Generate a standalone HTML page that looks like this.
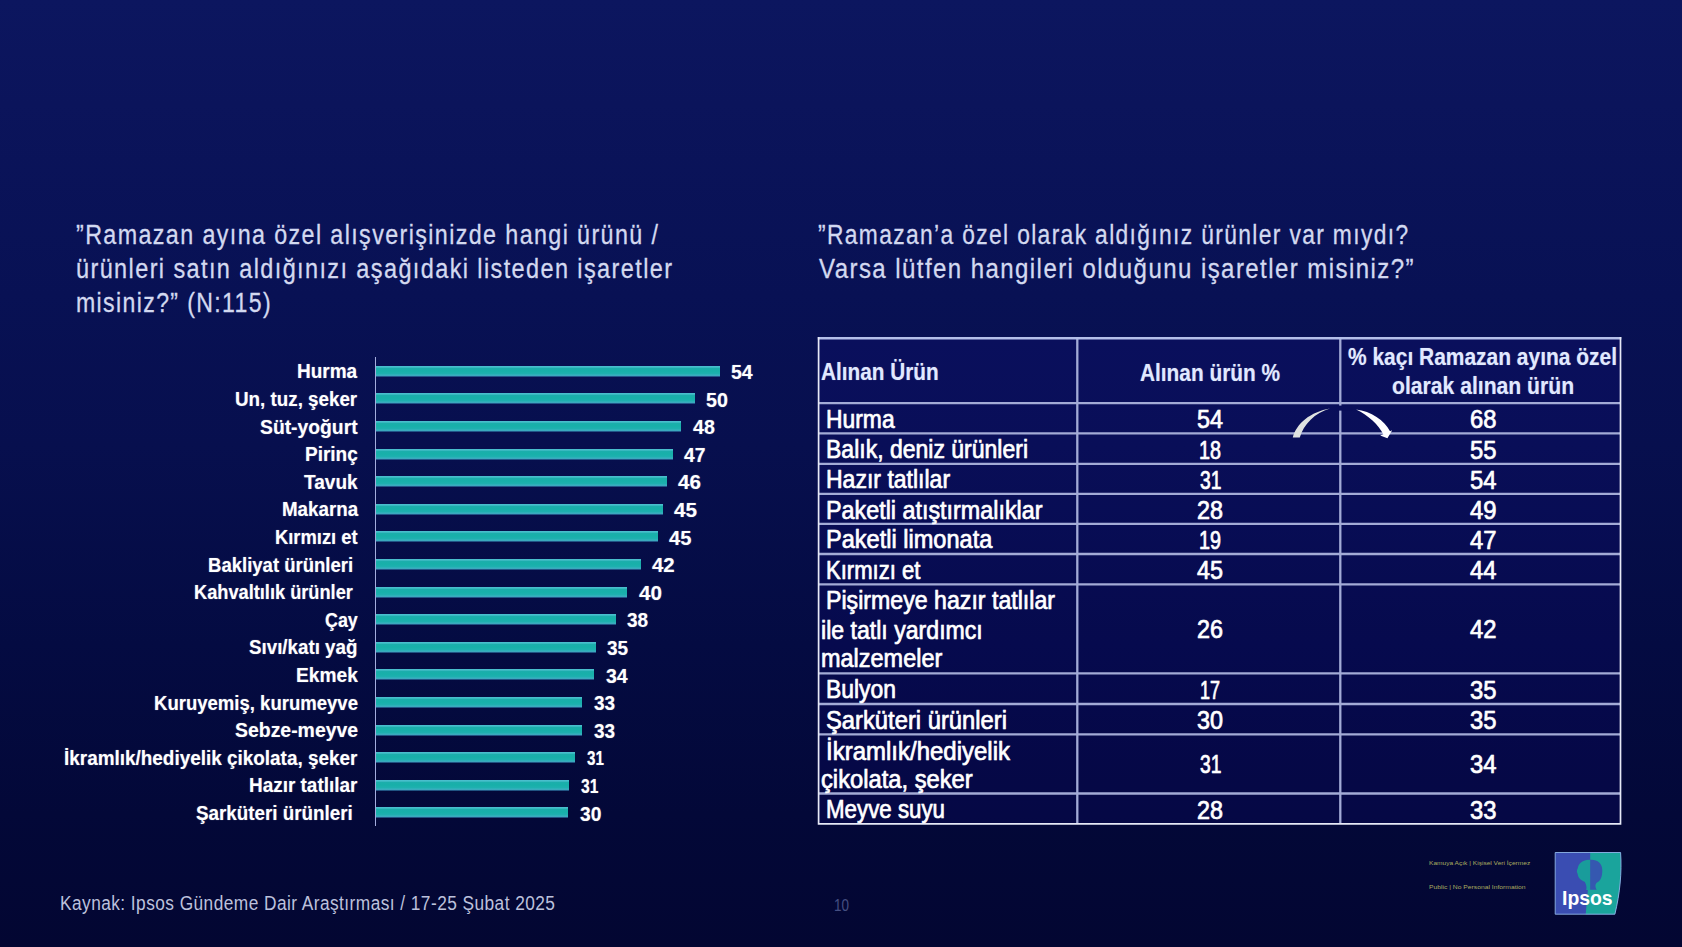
<!DOCTYPE html>
<html lang="tr"><head><meta charset="utf-8"><title>Ipsos - Ramazan alışverişi</title>
<style>
html,body{margin:0;padding:0}
body{width:1682px;height:947px;overflow:hidden;position:relative;font-family:"Liberation Sans", sans-serif;
background:linear-gradient(180deg,rgb(12,22,95) 0%,rgb(11,20,91) 11%,rgb(8,17,84) 31%,rgb(7,15,78) 47%,rgb(4,11,66) 68%,rgb(3,8,56) 86%,rgb(3,6,50) 100%);}
.t{position:absolute;white-space:pre;transform-origin:0 0;font-family:"Liberation Sans", sans-serif;}
.bar{position:absolute;left:376.3px;height:11.4px;background:linear-gradient(180deg,#45bccb 0,#4cc0ce 1px,#1caeac 2.2px,#17b0a9 5px,#1fb0b0 7.8px,#3db2c3 9.4px,rgba(46,120,165,.75) 10.4px,rgba(30,70,130,0) 11.4px);}
.axis{position:absolute;left:374.6px;top:356.5px;width:1.9px;height:469px;background:#a3addd;}
svg{position:absolute;left:0;top:0}
</style></head><body>
<div class="bar" style="top:365.8px;width:343.5px"></div>
<div class="bar" style="top:393.4px;width:318.4px"></div>
<div class="bar" style="top:421.0px;width:304.7px"></div>
<div class="bar" style="top:448.6px;width:296.3px"></div>
<div class="bar" style="top:476.2px;width:290.7px"></div>
<div class="bar" style="top:503.8px;width:286.5px"></div>
<div class="bar" style="top:531.4px;width:281.5px"></div>
<div class="bar" style="top:559.0px;width:264.6px"></div>
<div class="bar" style="top:586.6px;width:250.9px"></div>
<div class="bar" style="top:614.2px;width:239.5px"></div>
<div class="bar" style="top:641.8px;width:219.4px"></div>
<div class="bar" style="top:669.4px;width:217.9px"></div>
<div class="bar" style="top:697.0px;width:206.2px"></div>
<div class="bar" style="top:724.6px;width:206.2px"></div>
<div class="bar" style="top:752.2px;width:198.3px"></div>
<div class="bar" style="top:779.8px;width:193.0px"></div>
<div class="bar" style="top:807.4px;width:192.2px"></div>
<div class="axis"></div>
<svg width="1682" height="947" viewBox="0 0 1682 947">
<rect x="818.6" y="338" width="801.9" height="485.79999999999995" fill="rgba(22,10,165,0.12)"/>
<g stroke="#a3abd6" stroke-width="2.3" fill="none"><line x1="818.6" y1="403.2" x2="1620.5" y2="403.2"/><line x1="818.6" y1="433.4" x2="1620.5" y2="433.4"/><line x1="818.6" y1="463.8" x2="1620.5" y2="463.8"/><line x1="818.6" y1="493.8" x2="1620.5" y2="493.8"/><line x1="818.6" y1="523.9" x2="1620.5" y2="523.9"/><line x1="818.6" y1="554" x2="1620.5" y2="554"/><line x1="818.6" y1="584.3" x2="1620.5" y2="584.3"/><line x1="818.6" y1="673.3" x2="1620.5" y2="673.3"/><line x1="818.6" y1="704" x2="1620.5" y2="704"/><line x1="818.6" y1="734.3" x2="1620.5" y2="734.3"/><line x1="818.6" y1="793.5" x2="1620.5" y2="793.5"/><line x1="1077.3" y1="338" x2="1077.3" y2="823.8"/><line x1="1340.3" y1="338" x2="1340.3" y2="823.8"/></g>
<line x1="817.8000000000001" y1="338.2" x2="1621.3" y2="338.2" stroke="#b4bfe9" stroke-width="2.4"/><path d="M818.6,337 L818.6,823.8 L1620.5,823.8 L1620.5,337" stroke="#e6e9f6" stroke-width="1.7" fill="none"/>
<rect x="1336" y="405.6" width="17" height="5" fill="rgb(9,14,89)"/>
<path d="M1292.8,437.6 C1296,423.5 1311,411.5 1330,408.4 C1315,412.8 1303.5,424 1299.8,437.6 Z" fill="#dfe2e0"/>
<path d="M1356,409.6 C1371,411.3 1384.5,420.5 1390,431.3 L1392.2,430.2 L1387.4,438.2 L1380.2,435.4 L1383.3,434.2 C1378.5,425 1368.5,415.5 1356,409.6 Z" fill="#ffffff"/>
<g transform="translate(0.4,0.4)">
<path d="M1554.8,852.1 L1620.2,852.1 C1621.6,872 1619.5,893 1614.5,913.8 L1554.8,913.8 Z" fill="#3a4db2"/>
<path d="M1589.8,852.1 L1620.2,852.1 C1621.6,872 1619.5,893 1614.5,913.8 L1585.3,913.8 L1587.5,889 L1589.8,888.5 Z" fill="#1aa49c"/>
<path d="M1589.8,859.3 C1583,858.8 1578,862.5 1577.3,868 C1576.2,869.8 1576.2,871.5 1577.3,873.5 C1577.5,877 1580.5,880 1584.5,881.5 C1586,884.5 1586.5,887 1585.8,889.5 L1589.8,889.5 Z" fill="#199c9b"/>
<path d="M1589.8,859.3 C1597,858.8 1601.8,863 1601.9,869.5 C1602,876 1600.2,880.8 1596.2,882.3 C1594.6,884 1594.6,886.5 1596.2,889.3 L1589.8,889.3 Z" fill="#3558b0"/>
<path d="M1554.8,852.1 L1620.2,852.1 C1621.6,872 1619.5,893 1614.5,913.8 L1554.8,913.8 Z" fill="none" stroke="#8fb6e8" stroke-width="0.9"/>
</g>
</svg>
<span class="t" style="left:75.5px;top:221.5px;font-size:26.8px;line-height:26.8px;font-weight:400;color:#d3d9f0;transform:scaleX(0.8691);letter-spacing:1.6px;-webkit-text-stroke:0.3px #d3d9f0">”Ramazan ayına özel alışverişinizde hangi ürünü /</span>
<span class="t" style="left:76.0px;top:255.7px;font-size:26.8px;line-height:26.8px;font-weight:400;color:#d3d9f0;transform:scaleX(0.8757);letter-spacing:1.6px;-webkit-text-stroke:0.3px #d3d9f0">ürünleri satın aldığınızı aşağıdaki listeden işaretler</span>
<span class="t" style="left:76.0px;top:290.0px;font-size:26.8px;line-height:26.8px;font-weight:400;color:#d3d9f0;transform:scaleX(0.8611);letter-spacing:1.6px;-webkit-text-stroke:0.3px #d3d9f0">misiniz?” (N:115)</span>
<span class="t" style="left:818.4px;top:221.5px;font-size:26.8px;line-height:26.8px;font-weight:400;color:#d3d9f0;transform:scaleX(0.8507);letter-spacing:1.6px;-webkit-text-stroke:0.3px #d3d9f0">”Ramazan’a özel olarak aldığınız ürünler var mıydı?</span>
<span class="t" style="left:819.0px;top:255.7px;font-size:26.8px;line-height:26.8px;font-weight:400;color:#d3d9f0;transform:scaleX(0.8962);letter-spacing:1.6px;-webkit-text-stroke:0.3px #d3d9f0">Varsa lütfen hangileri olduğunu işaretler misiniz?”</span>
<span class="t" style="left:297.4px;top:362.4px;font-size:19.6px;line-height:19.6px;font-weight:700;color:#fff;transform:scaleX(0.9697);text-shadow:0 0 1.2px rgba(255,255,255,.45)">Hurma</span>
<span class="t" style="left:730.9px;top:362.0px;font-size:20px;line-height:20px;font-weight:700;color:#fff;transform:scaleX(0.9753);text-shadow:0 0 1.2px rgba(255,255,255,.45)">54</span>
<span class="t" style="left:235.4px;top:390.0px;font-size:19.6px;line-height:19.6px;font-weight:700;color:#fff;transform:scaleX(0.9591);text-shadow:0 0 1.2px rgba(255,255,255,.45)">Un, tuz, şeker</span>
<span class="t" style="left:705.8px;top:389.6px;font-size:20px;line-height:20px;font-weight:700;color:#fff;transform:scaleX(0.9843);text-shadow:0 0 1.2px rgba(255,255,255,.45)">50</span>
<span class="t" style="left:260.0px;top:417.6px;font-size:19.6px;line-height:19.6px;font-weight:700;color:#fff;transform:scaleX(0.9854);text-shadow:0 0 1.2px rgba(255,255,255,.45)">Süt-yoğurt</span>
<span class="t" style="left:693.2px;top:417.2px;font-size:20px;line-height:20px;font-weight:700;color:#fff;transform:scaleX(0.9798);text-shadow:0 0 1.2px rgba(255,255,255,.45)">48</span>
<span class="t" style="left:304.8px;top:445.2px;font-size:19.6px;line-height:19.6px;font-weight:700;color:#fff;transform:scaleX(0.9696);text-shadow:0 0 1.2px rgba(255,255,255,.45)">Pirinç</span>
<span class="t" style="left:683.9px;top:444.8px;font-size:20px;line-height:20px;font-weight:700;color:#fff;transform:scaleX(0.9618);text-shadow:0 0 1.2px rgba(255,255,255,.45)">47</span>
<span class="t" style="left:304.0px;top:472.8px;font-size:19.6px;line-height:19.6px;font-weight:700;color:#fff;transform:scaleX(0.9712);text-shadow:0 0 1.2px rgba(255,255,255,.45)">Tavuk</span>
<span class="t" style="left:678.1px;top:472.4px;font-size:20px;line-height:20px;font-weight:700;color:#fff;transform:scaleX(1.0292);text-shadow:0 0 1.2px rgba(255,255,255,.45)">46</span>
<span class="t" style="left:281.5px;top:500.4px;font-size:19.6px;line-height:19.6px;font-weight:700;color:#fff;transform:scaleX(0.9570);text-shadow:0 0 1.2px rgba(255,255,255,.45)">Makarna</span>
<span class="t" style="left:674.1px;top:500.0px;font-size:20px;line-height:20px;font-weight:700;color:#fff;transform:scaleX(1.0337);text-shadow:0 0 1.2px rgba(255,255,255,.45)">45</span>
<span class="t" style="left:275.0px;top:528.0px;font-size:19.6px;line-height:19.6px;font-weight:700;color:#fff;transform:scaleX(0.9365);text-shadow:0 0 1.2px rgba(255,255,255,.45)">Kırmızı et</span>
<span class="t" style="left:669.4px;top:527.6px;font-size:20px;line-height:20px;font-weight:700;color:#fff;transform:scaleX(1.0067);text-shadow:0 0 1.2px rgba(255,255,255,.45)">45</span>
<span class="t" style="left:207.6px;top:555.6px;font-size:19.6px;line-height:19.6px;font-weight:700;color:#fff;transform:scaleX(0.9456);text-shadow:0 0 1.2px rgba(255,255,255,.45)">Bakliyat ürünleri</span>
<span class="t" style="left:652.0px;top:555.2px;font-size:20px;line-height:20px;font-weight:700;color:#fff;transform:scaleX(1.0202);text-shadow:0 0 1.2px rgba(255,255,255,.45)">42</span>
<span class="t" style="left:193.9px;top:583.2px;font-size:19.6px;line-height:19.6px;font-weight:700;color:#fff;transform:scaleX(0.9295);text-shadow:0 0 1.2px rgba(255,255,255,.45)">Kahvaltılık ürünler</span>
<span class="t" style="left:639.3px;top:582.8px;font-size:20px;line-height:20px;font-weight:700;color:#fff;transform:scaleX(1.0337);text-shadow:0 0 1.2px rgba(255,255,255,.45)">40</span>
<span class="t" style="left:324.8px;top:610.8px;font-size:19.6px;line-height:19.6px;font-weight:700;color:#fff;transform:scaleX(0.9123);text-shadow:0 0 1.2px rgba(255,255,255,.45)">Çay</span>
<span class="t" style="left:626.6px;top:610.4px;font-size:20px;line-height:20px;font-weight:700;color:#fff;transform:scaleX(0.9483);text-shadow:0 0 1.2px rgba(255,255,255,.45)">38</span>
<span class="t" style="left:249.2px;top:638.4px;font-size:19.6px;line-height:19.6px;font-weight:700;color:#fff;transform:scaleX(0.9569);text-shadow:0 0 1.2px rgba(255,255,255,.45)">Sıvı/katı yağ</span>
<span class="t" style="left:607.4px;top:638.0px;font-size:20px;line-height:20px;font-weight:700;color:#fff;transform:scaleX(0.9483);text-shadow:0 0 1.2px rgba(255,255,255,.45)">35</span>
<span class="t" style="left:295.8px;top:666.0px;font-size:19.6px;line-height:19.6px;font-weight:700;color:#fff;transform:scaleX(0.9780);text-shadow:0 0 1.2px rgba(255,255,255,.45)">Ekmek</span>
<span class="t" style="left:605.5px;top:665.6px;font-size:20px;line-height:20px;font-weight:700;color:#fff;transform:scaleX(0.9753);text-shadow:0 0 1.2px rgba(255,255,255,.45)">34</span>
<span class="t" style="left:153.6px;top:693.6px;font-size:19.6px;line-height:19.6px;font-weight:700;color:#fff;transform:scaleX(0.9460);text-shadow:0 0 1.2px rgba(255,255,255,.45)">Kuruyemiş, kurumeyve</span>
<span class="t" style="left:594.2px;top:693.2px;font-size:20px;line-height:20px;font-weight:700;color:#fff;transform:scaleX(0.9483);text-shadow:0 0 1.2px rgba(255,255,255,.45)">33</span>
<span class="t" style="left:234.5px;top:721.2px;font-size:19.6px;line-height:19.6px;font-weight:700;color:#fff;transform:scaleX(0.9914);text-shadow:0 0 1.2px rgba(255,255,255,.45)">Sebze-meyve</span>
<span class="t" style="left:594.2px;top:720.8px;font-size:20px;line-height:20px;font-weight:700;color:#fff;transform:scaleX(0.9483);text-shadow:0 0 1.2px rgba(255,255,255,.45)">33</span>
<span class="t" style="left:64.2px;top:748.8px;font-size:19.6px;line-height:19.6px;font-weight:700;color:#fff;transform:scaleX(0.9655);text-shadow:0 0 1.2px rgba(255,255,255,.45)">İkramlık/hediyelik çikolata, şeker</span>
<span class="t" style="left:586.5px;top:748.4px;font-size:20px;line-height:20px;font-weight:700;color:#fff;transform:scaleX(0.7596);text-shadow:0 0 1.2px rgba(255,255,255,.45)">31</span>
<span class="t" style="left:249.2px;top:776.4px;font-size:19.6px;line-height:19.6px;font-weight:700;color:#fff;transform:scaleX(0.9664);text-shadow:0 0 1.2px rgba(255,255,255,.45)">Hazır tatlılar</span>
<span class="t" style="left:580.7px;top:776.0px;font-size:20px;line-height:20px;font-weight:700;color:#fff;transform:scaleX(0.7820);text-shadow:0 0 1.2px rgba(255,255,255,.45)">31</span>
<span class="t" style="left:195.5px;top:804.0px;font-size:19.6px;line-height:19.6px;font-weight:700;color:#fff;transform:scaleX(0.9599);text-shadow:0 0 1.2px rgba(255,255,255,.45)">Şarküteri ürünleri</span>
<span class="t" style="left:579.6px;top:803.6px;font-size:20px;line-height:20px;font-weight:700;color:#fff;transform:scaleX(0.9618);text-shadow:0 0 1.2px rgba(255,255,255,.45)">30</span>
<span class="t" style="left:820.6px;top:360.4px;font-size:24.2px;line-height:24.2px;font-weight:700;color:#e1e9ff;transform:scaleX(0.8580);text-shadow:0 0 1.2px rgba(225,233,255,.4)">Alınan Ürün</span>
<span class="t" style="left:1140.0px;top:361.1px;font-size:24.2px;line-height:24.2px;font-weight:700;color:#e1e9ff;transform:scaleX(0.8610);text-shadow:0 0 1.2px rgba(225,233,255,.4)">Alınan ürün %</span>
<span class="t" style="left:1348.0px;top:345.3px;font-size:24.2px;line-height:24.2px;font-weight:700;color:#e1e9ff;transform:scaleX(0.8662);text-shadow:0 0 1.2px rgba(225,233,255,.4)">% kaçı Ramazan ayına özel</span>
<span class="t" style="left:1391.7px;top:373.9px;font-size:24.2px;line-height:24.2px;font-weight:700;color:#e1e9ff;transform:scaleX(0.8740);text-shadow:0 0 1.2px rgba(225,233,255,.4)">olarak alınan ürün</span>
<span class="t" style="left:826.4px;top:405.7px;font-size:26px;line-height:26px;font-weight:400;color:#fff;transform:scaleX(0.8793);text-shadow:0 0 1.2px rgba(255,255,255,.4);-webkit-text-stroke:0.6px #fff">Hurma</span>
<span class="t" style="left:1197.2px;top:407.3px;font-size:25.2px;line-height:25.2px;font-weight:400;color:#fff;transform:scaleX(0.9275);text-shadow:0 0 1.2px rgba(255,255,255,.4);-webkit-text-stroke:0.6px #fff">54</span>
<span class="t" style="left:1469.5px;top:407.3px;font-size:25.2px;line-height:25.2px;font-weight:400;color:#fff;transform:scaleX(0.9454);text-shadow:0 0 1.2px rgba(255,255,255,.4);-webkit-text-stroke:0.6px #fff">68</span>
<span class="t" style="left:826.4px;top:436.0px;font-size:26px;line-height:26px;font-weight:400;color:#fff;transform:scaleX(0.8846);text-shadow:0 0 1.2px rgba(255,255,255,.4);-webkit-text-stroke:0.6px #fff">Balık, deniz ürünleri</span>
<span class="t" style="left:1199.2px;top:437.6px;font-size:25.2px;line-height:25.2px;font-weight:400;color:#fff;transform:scaleX(0.7848);text-shadow:0 0 1.2px rgba(255,255,255,.4);-webkit-text-stroke:0.6px #fff">18</span>
<span class="t" style="left:1469.5px;top:437.6px;font-size:25.2px;line-height:25.2px;font-weight:400;color:#fff;transform:scaleX(0.9454);text-shadow:0 0 1.2px rgba(255,255,255,.4);-webkit-text-stroke:0.6px #fff">55</span>
<span class="t" style="left:826.4px;top:466.2px;font-size:26px;line-height:26px;font-weight:400;color:#fff;transform:scaleX(0.8854);text-shadow:0 0 1.2px rgba(255,255,255,.4);-webkit-text-stroke:0.6px #fff">Hazır tatlılar</span>
<span class="t" style="left:1199.5px;top:467.8px;font-size:25.2px;line-height:25.2px;font-weight:400;color:#fff;transform:scaleX(0.7670);text-shadow:0 0 1.2px rgba(255,255,255,.4);-webkit-text-stroke:0.6px #fff">31</span>
<span class="t" style="left:1469.5px;top:467.8px;font-size:25.2px;line-height:25.2px;font-weight:400;color:#fff;transform:scaleX(0.9454);text-shadow:0 0 1.2px rgba(255,255,255,.4);-webkit-text-stroke:0.6px #fff">54</span>
<span class="t" style="left:826.4px;top:496.5px;font-size:26px;line-height:26px;font-weight:400;color:#fff;transform:scaleX(0.8972);text-shadow:0 0 1.2px rgba(255,255,255,.4);-webkit-text-stroke:0.6px #fff">Paketli atıştırmalıklar</span>
<span class="t" style="left:1197.2px;top:498.1px;font-size:25.2px;line-height:25.2px;font-weight:400;color:#fff;transform:scaleX(0.9275);text-shadow:0 0 1.2px rgba(255,255,255,.4);-webkit-text-stroke:0.6px #fff">28</span>
<span class="t" style="left:1469.5px;top:498.1px;font-size:25.2px;line-height:25.2px;font-weight:400;color:#fff;transform:scaleX(0.9454);text-shadow:0 0 1.2px rgba(255,255,255,.4);-webkit-text-stroke:0.6px #fff">49</span>
<span class="t" style="left:826.4px;top:526.4px;font-size:26px;line-height:26px;font-weight:400;color:#fff;transform:scaleX(0.9060);text-shadow:0 0 1.2px rgba(255,255,255,.4);-webkit-text-stroke:0.6px #fff">Paketli limonata</span>
<span class="t" style="left:1199.2px;top:528.0px;font-size:25.2px;line-height:25.2px;font-weight:400;color:#fff;transform:scaleX(0.7848);text-shadow:0 0 1.2px rgba(255,255,255,.4);-webkit-text-stroke:0.6px #fff">19</span>
<span class="t" style="left:1469.5px;top:528.0px;font-size:25.2px;line-height:25.2px;font-weight:400;color:#fff;transform:scaleX(0.9454);text-shadow:0 0 1.2px rgba(255,255,255,.4);-webkit-text-stroke:0.6px #fff">47</span>
<span class="t" style="left:826.2px;top:556.5px;font-size:26px;line-height:26px;font-weight:400;color:#fff;transform:scaleX(0.8494);text-shadow:0 0 1.2px rgba(255,255,255,.4);-webkit-text-stroke:0.6px #fff">Kırmızı et</span>
<span class="t" style="left:1197.2px;top:558.1px;font-size:25.2px;line-height:25.2px;font-weight:400;color:#fff;transform:scaleX(0.9275);text-shadow:0 0 1.2px rgba(255,255,255,.4);-webkit-text-stroke:0.6px #fff">45</span>
<span class="t" style="left:1469.5px;top:558.1px;font-size:25.2px;line-height:25.2px;font-weight:400;color:#fff;transform:scaleX(0.9454);text-shadow:0 0 1.2px rgba(255,255,255,.4);-webkit-text-stroke:0.6px #fff">44</span>
<span class="t" style="left:826.0px;top:587.2px;font-size:26px;line-height:26px;font-weight:400;color:#fff;transform:scaleX(0.8904);text-shadow:0 0 1.2px rgba(255,255,255,.4);-webkit-text-stroke:0.6px #fff">Pişirmeye hazır tatlılar</span>
<span class="t" style="left:820.7px;top:616.6px;font-size:26px;line-height:26px;font-weight:400;color:#fff;transform:scaleX(0.8887);text-shadow:0 0 1.2px rgba(255,255,255,.4);-webkit-text-stroke:0.6px #fff">ile tatlı yardımcı</span>
<span class="t" style="left:820.7px;top:645.4px;font-size:26px;line-height:26px;font-weight:400;color:#fff;transform:scaleX(0.9027);text-shadow:0 0 1.2px rgba(255,255,255,.4);-webkit-text-stroke:0.6px #fff">malzemeler</span>
<span class="t" style="left:1197.2px;top:617.0px;font-size:25.2px;line-height:25.2px;font-weight:400;color:#fff;transform:scaleX(0.9275);text-shadow:0 0 1.2px rgba(255,255,255,.4);-webkit-text-stroke:0.6px #fff">26</span>
<span class="t" style="left:1469.5px;top:617.0px;font-size:25.2px;line-height:25.2px;font-weight:400;color:#fff;transform:scaleX(0.9454);text-shadow:0 0 1.2px rgba(255,255,255,.4);-webkit-text-stroke:0.6px #fff">42</span>
<span class="t" style="left:826.0px;top:676.2px;font-size:26px;line-height:26px;font-weight:400;color:#fff;transform:scaleX(0.8805);text-shadow:0 0 1.2px rgba(255,255,255,.4);-webkit-text-stroke:0.6px #fff">Bulyon</span>
<span class="t" style="left:1200.2px;top:677.8px;font-size:25.2px;line-height:25.2px;font-weight:400;color:#fff;transform:scaleX(0.7135);text-shadow:0 0 1.2px rgba(255,255,255,.4);-webkit-text-stroke:0.6px #fff">17</span>
<span class="t" style="left:1469.5px;top:677.8px;font-size:25.2px;line-height:25.2px;font-weight:400;color:#fff;transform:scaleX(0.9454);text-shadow:0 0 1.2px rgba(255,255,255,.4);-webkit-text-stroke:0.6px #fff">35</span>
<span class="t" style="left:826.0px;top:706.8px;font-size:26px;line-height:26px;font-weight:400;color:#fff;transform:scaleX(0.9142);text-shadow:0 0 1.2px rgba(255,255,255,.4);-webkit-text-stroke:0.6px #fff">Şarküteri ürünleri</span>
<span class="t" style="left:1197.2px;top:708.4px;font-size:25.2px;line-height:25.2px;font-weight:400;color:#fff;transform:scaleX(0.9275);text-shadow:0 0 1.2px rgba(255,255,255,.4);-webkit-text-stroke:0.6px #fff">30</span>
<span class="t" style="left:1469.5px;top:708.4px;font-size:25.2px;line-height:25.2px;font-weight:400;color:#fff;transform:scaleX(0.9454);text-shadow:0 0 1.2px rgba(255,255,255,.4);-webkit-text-stroke:0.6px #fff">35</span>
<span class="t" style="left:826.0px;top:738.0px;font-size:26px;line-height:26px;font-weight:400;color:#fff;transform:scaleX(0.9227);text-shadow:0 0 1.2px rgba(255,255,255,.4);-webkit-text-stroke:0.6px #fff">İkramlık/hediyelik</span>
<span class="t" style="left:820.7px;top:765.7px;font-size:26px;line-height:26px;font-weight:400;color:#fff;transform:scaleX(0.9128);text-shadow:0 0 1.2px rgba(255,255,255,.4);-webkit-text-stroke:0.6px #fff">çikolata, şeker</span>
<span class="t" style="left:1199.5px;top:752.1px;font-size:25.2px;line-height:25.2px;font-weight:400;color:#fff;transform:scaleX(0.7670);text-shadow:0 0 1.2px rgba(255,255,255,.4);-webkit-text-stroke:0.6px #fff">31</span>
<span class="t" style="left:1469.5px;top:752.1px;font-size:25.2px;line-height:25.2px;font-weight:400;color:#fff;transform:scaleX(0.9454);text-shadow:0 0 1.2px rgba(255,255,255,.4);-webkit-text-stroke:0.6px #fff">34</span>
<span class="t" style="left:826.0px;top:796.1px;font-size:26px;line-height:26px;font-weight:400;color:#fff;transform:scaleX(0.8578);text-shadow:0 0 1.2px rgba(255,255,255,.4);-webkit-text-stroke:0.6px #fff">Meyve suyu</span>
<span class="t" style="left:1197.2px;top:797.7px;font-size:25.2px;line-height:25.2px;font-weight:400;color:#fff;transform:scaleX(0.9275);text-shadow:0 0 1.2px rgba(255,255,255,.4);-webkit-text-stroke:0.6px #fff">28</span>
<span class="t" style="left:1469.5px;top:797.7px;font-size:25.2px;line-height:25.2px;font-weight:400;color:#fff;transform:scaleX(0.9454);text-shadow:0 0 1.2px rgba(255,255,255,.4);-webkit-text-stroke:0.6px #fff">33</span>
<span class="t" style="left:60.0px;top:893.6px;font-size:19.6px;line-height:19.6px;font-weight:400;color:#bcc1dc;transform:scaleX(0.8830);letter-spacing:0.5px;">Kaynak: Ipsos Gündeme Dair Araştırması / 17-25 Şubat 2025</span>
<span class="t" style="left:834.0px;top:897.0px;font-size:16.5px;line-height:16.5px;font-weight:400;color:#454f82;transform:scaleX(0.8170);">10</span>
<span class="t" style="left:1428.8px;top:861.0px;font-size:5.4px;line-height:5.4px;font-weight:400;color:#aaac60;transform:scaleX(1.2209);">Kamuya Açık | Kişisel Veri İçermez</span>
<span class="t" style="left:1428.8px;top:884.6px;font-size:5.4px;line-height:5.4px;font-weight:400;color:#aaac60;transform:scaleX(1.2510);">Public | No Personal Information</span>
<span class="t" style="left:1561.6px;top:886.7px;font-size:21px;line-height:21px;font-weight:700;color:#fff;transform:scaleX(0.9224);">Ipsos</span>
</body></html>
